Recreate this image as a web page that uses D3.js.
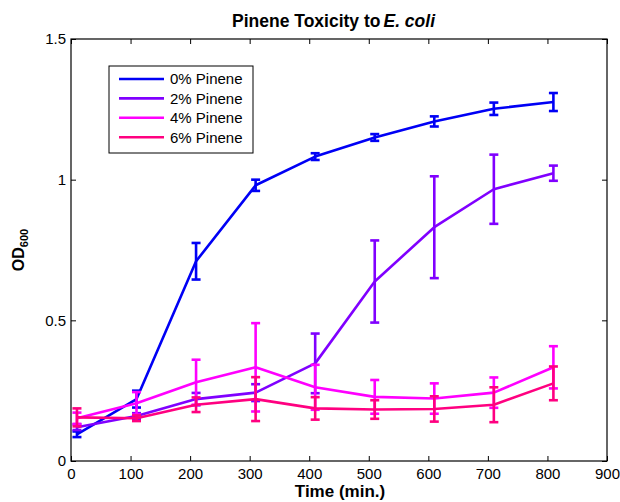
<!DOCTYPE html>
<html>
<head>
<meta charset="utf-8">
<script src="https://cdn.jsdelivr.net/npm/d3@7/dist/d3.min.js"></script>
<style>
  html, body { margin: 0; padding: 0; background: #fff; }
  svg { display: block; font-family: "Liberation Sans", Arial, Helvetica, sans-serif; }
</style>
</head>
<body>
<svg id="chart" width="620" height="502"></svg>
<script>
// ---- data ----
const times = [10, 110, 210, 310, 410, 510, 610, 710, 810];
const seriesNames = ["0% Pinene", "2% Pinene", "4% Pinene", "6% Pinene"];
const mean0 = [0.095, 0.22, 0.71, 0.98, 1.082, 1.15, 1.207, 1.252, 1.276];
const err0  = [0.01, 0.03, 0.065, 0.02, 0.012, 0.012, 0.018, 0.022, 0.032];
const mean2 = [0.12, 0.16, 0.22, 0.243, 0.347, 0.638, 0.831, 0.966, 1.023];
const err2  = [0.01, 0.01, 0.022, 0.03, 0.106, 0.146, 0.181, 0.123, 0.027];
const mean4 = [0.152, 0.205, 0.28, 0.333, 0.262, 0.228, 0.222, 0.243, 0.333];
const err4  = [0.02, 0.04, 0.08, 0.157, 0.08, 0.06, 0.054, 0.054, 0.075];
const mean6 = [0.155, 0.152, 0.2, 0.22, 0.187, 0.183, 0.185, 0.2, 0.276];
const err6  = [0.032, 0.01, 0.026, 0.078, 0.04, 0.033, 0.045, 0.062, 0.06];
const xTicks = [0, 100, 200, 300, 400, 500, 600, 700, 800, 900];
const yTicks = [0, 0.5, 1, 1.5];
const yTickLabels = ["0", "0.5", "1", "1.5"];
const colors = ["#0000f5", "#8000ff", "#ff00ff", "#ff0080"];

const means = [mean0, mean2, mean4, mean6];
const errs = [err0, err2, err4, err6];

// ---- layout ----
const L = 71, T = 39, R = 607, B = 461;
const svg = d3.select("#chart");
const x = d3.scaleLinear().domain([0, 900]).range([L, R]);
const y = d3.scaleLinear().domain([0, 1.5]).range([B, T]);

// frame
svg.append("rect").attr("x", L).attr("y", T).attr("width", R - L).attr("height", B - T)
  .attr("fill", "none").attr("stroke", "#000").attr("stroke-width", 1.2);

// axes (inner ticks)
const fs = "15px";
const ax = svg.append("g").attr("transform", `translate(0,${B})`)
  .call(d3.axisBottom(x).tickValues(xTicks).tickSizeInner(-5).tickSizeOuter(0).tickPadding(7));
const axTop = svg.append("g").attr("transform", `translate(0,${T})`)
  .call(d3.axisTop(x).tickValues(xTicks).tickSizeInner(-5).tickSizeOuter(0).tickFormat(""));
const ay = svg.append("g").attr("transform", `translate(${L},0)`)
  .call(d3.axisLeft(y).tickValues(yTicks).tickFormat((d, i) => yTickLabels[i]).tickSizeInner(-5).tickSizeOuter(0).tickPadding(5));
const ayR = svg.append("g").attr("transform", `translate(${R},0)`)
  .call(d3.axisRight(y).tickValues(yTicks).tickSizeInner(-5).tickSizeOuter(0).tickFormat(""));
[ax, axTop, ay, ayR].forEach(g => {
  g.select(".domain").remove();
  g.selectAll("line").attr("stroke", "#000").attr("stroke-width", 1);
  g.selectAll("text").attr("font-size", fs).attr("fill", "#000")
    .attr("font-family", '"Liberation Sans", Arial, Helvetica, sans-serif');
});
ax.selectAll("text").attr("dy", "0.71em");

// series
const line = d3.line().x((d, i) => x(times[i])).y(d => y(d));
means.forEach((m, s) => {
  const g = svg.append("g");
  g.append("path").datum(m).attr("d", line).attr("fill", "none")
    .attr("stroke", colors[s]).attr("stroke-width", 2.6).attr("stroke-linejoin", "round");
  const cap = 4.5;
  m.forEach((v, i) => {
    const cx = x(times[i]);
    const y1 = y(v + errs[s][i]), y2 = y(v - errs[s][i]);
    g.append("line").attr("x1", cx).attr("x2", cx).attr("y1", y1).attr("y2", y2)
      .attr("stroke", colors[s]).attr("stroke-width", 2.6);
    g.append("line").attr("x1", cx - cap).attr("x2", cx + cap).attr("y1", y1).attr("y2", y1)
      .attr("stroke", colors[s]).attr("stroke-width", 2.6);
    g.append("line").attr("x1", cx - cap).attr("x2", cx + cap).attr("y1", y2).attr("y2", y2)
      .attr("stroke", colors[s]).attr("stroke-width", 2.6);
  });
});

// legend
const lg = svg.append("g");
lg.append("rect").attr("x", 109).attr("y", 66).attr("width", 144).attr("height", 87)
  .attr("fill", "#fff").attr("stroke", "#000").attr("stroke-width", 1);
seriesNames.forEach((n, i) => {
  const yy = 79 + i * 19.4;
  lg.append("line").attr("x1", 119).attr("x2", 164).attr("y1", yy).attr("y2", yy)
    .attr("stroke", colors[i]).attr("stroke-width", 2.6);
  lg.append("text").attr("x", 170).attr("y", yy).attr("dy", "0.36em")
    .attr("font-size", fs).text(n);
});

// title
const title = svg.append("text").attr("x", 232).attr("y", 27)
  .attr("font-size", "17.5px").attr("font-weight", "bold");
title.append("tspan").text("Pinene Toxicity to");
title.append("tspan").attr("dx", 3).attr("font-style", "italic").text("E. coli");

// x label
svg.append("text").attr("x", 340).attr("y", 497).attr("text-anchor", "middle")
  .attr("font-size", "17px").attr("font-weight", "bold").text("Time (min.)");

// y label
const yl = svg.append("text").attr("transform", "translate(24,250) rotate(-90)")
  .attr("text-anchor", "middle").attr("font-weight", "bold");
yl.append("tspan").attr("font-size", "16px").text("OD");
yl.append("tspan").attr("font-size", "11px").attr("dy", "4").text("600");
</script>
</body>
</html>
